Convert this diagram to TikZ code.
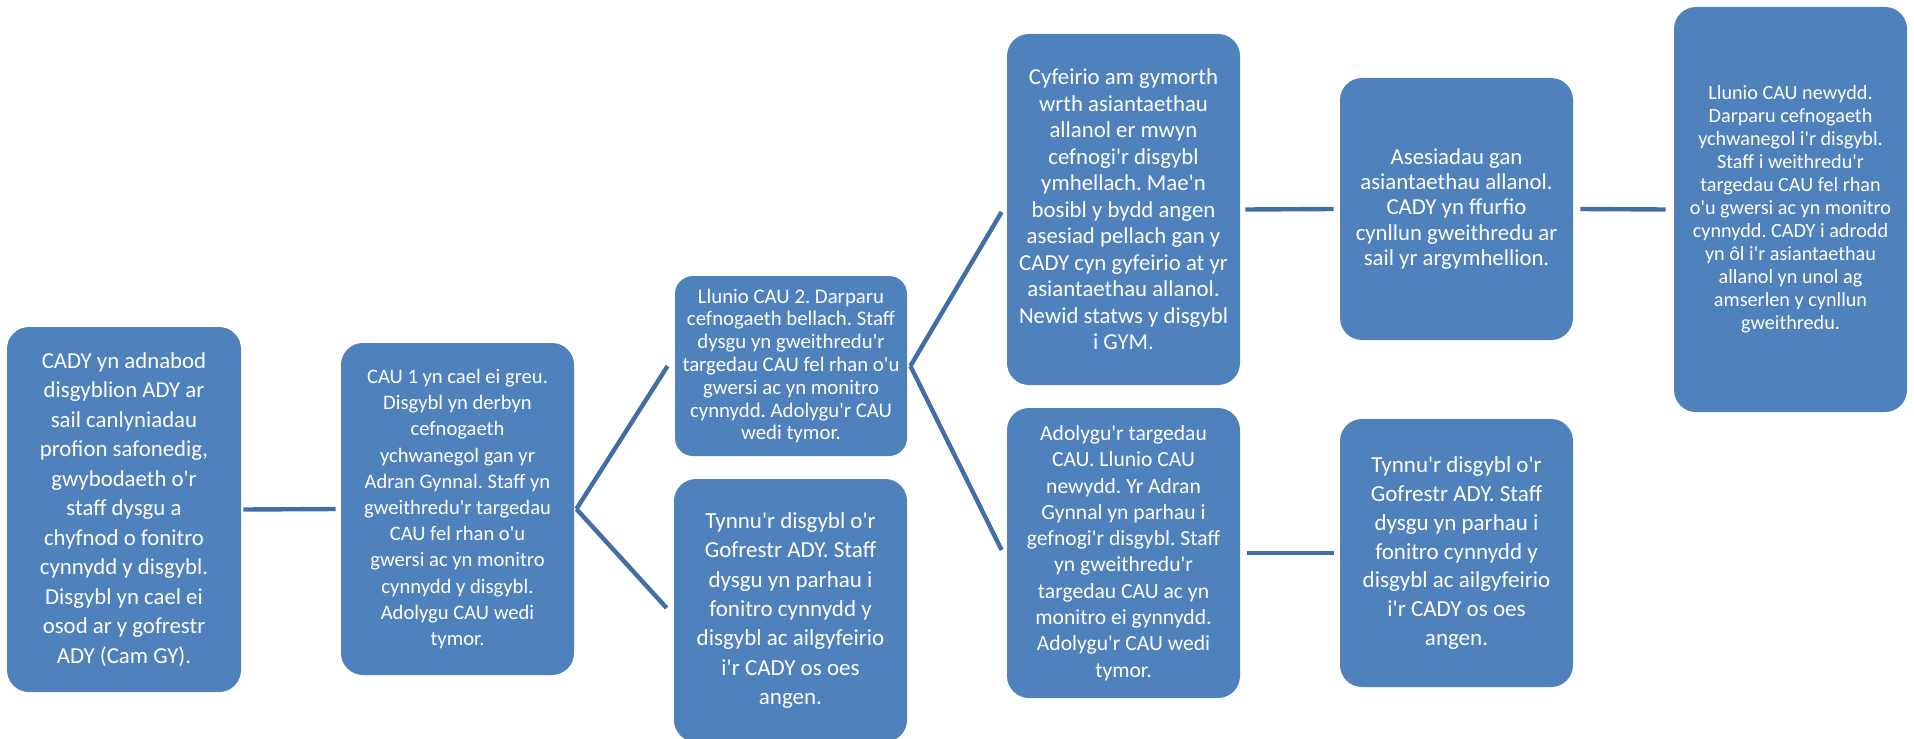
\documentclass[tikz,border=0pt]{standalone}
\usepackage{fontspec}
\setmainfont{Carlito}[Ligatures=TeXOff]
\usetikzlibrary{calc}
\definecolor{boxblue}{RGB}{79,129,189}
\definecolor{lineblue}{RGB}{66,110,166}
\tikzset{
  box/.style={fill=boxblue, draw=none, text=white, align=center, inner sep=0pt, rounded corners=11pt},
  link/.style={draw=lineblue, line width=2.2pt}
}
\frenchspacing
\begin{document}
\begin{tikzpicture}[x=0.5pt,y=-0.5pt]
\useasboundingbox (0,0) rectangle (1914,738);
\node[box, minimum width=117pt, minimum height=182.5pt, font=\fontsize{11.4}{14.75}\selectfont] (A) at (124,509.5)
 {CADY yn adnabod\\disgyblion ADY ar\\sail canlyniadau\\profion safonedig,\\gwybodaeth o'r\\staff dysgu a\\chyfnod o fonitro\\cynnydd y disgybl.\\Disgybl yn cael ei\\osod ar y gofrestr\\ADY (Cam GY).};
\node[box, minimum width=116.5pt, minimum height=166pt, font=\fontsize{10.3}{13.1}\selectfont] (B) at (457.5,509)
 {CAU 1 yn cael ei greu.\\Disgybl yn derbyn\\cefnogaeth\\ychwanegol gan yr\\Adran Gynnal. Staff yn\\gweithredu'r targedau\\CAU fel rhan o'u\\gwersi ac yn monitro\\cynnydd y disgybl.\\Adolygu CAU wedi\\tymor.};
\node[box, rounded corners=9pt, minimum width=116pt, minimum height=90pt, font=\fontsize{10.4}{11.4}\selectfont] (C) at (791,366)
 {Llunio CAU 2. Darparu\\cefnogaeth bellach. Staff\\dysgu yn gweithredu'r\\targedau CAU fel rhan o'u\\gwersi ac yn monitro\\cynnydd. Adolygu'r CAU\\wedi tymor.};
\node[box, minimum width=116.5pt, minimum height=131.5pt, font=\fontsize{11.5}{14.7}\selectfont] (D) at (790.5,610.5)
 {Tynnu'r disgybl o'r\\Gofrestr ADY. Staff\\dysgu yn parhau i\\fonitro cynnydd y\\disgybl ac ailgyfeirio\\i'r CADY os oes\\angen.};
\node[box, minimum width=116.5pt, minimum height=175.5pt, font=\fontsize{11.4}{13.25}\selectfont] (E) at (1123.5,209.5)
 {Cyfeirio am gymorth\\wrth asiantaethau\\allanol er mwyn\\cefnogi'r disgybl\\ymhellach. Mae'n\\bosibl y bydd angen\\asesiad pellach gan y\\CADY cyn gyfeirio at yr\\asiantaethau allanol.\\Newid statws y disgybl\\i GYM.};
\node[box, minimum width=116.5pt, minimum height=145pt, font=\fontsize{10.8}{13.15}\selectfont] (F) at (1123.5,553)
 {Adolygu'r targedau\\CAU. Llunio CAU\\newydd. Yr Adran\\Gynnal yn parhau i\\gefnogi'r disgybl. Staff\\yn gweithredu'r\\targedau CAU ac yn\\monitro ei gynnydd.\\Adolygu'r CAU wedi\\tymor.};
\node[box, minimum width=116.5pt, minimum height=131pt, font=\fontsize{11.4}{12.7}\selectfont] (G) at (1456.5,209)
 {Asesiadau gan\\asiantaethau allanol.\\CADY yn ffurfio\\cynllun gweithredu ar\\sail yr argymhellion.};
\node[box, minimum width=116.5pt, minimum height=134pt, font=\fontsize{11.5}{14.45}\selectfont] (H) at (1456.5,553)
 {Tynnu'r disgybl o'r\\Gofrestr ADY. Staff\\dysgu yn parhau i\\fonitro cynnydd y\\disgybl ac ailgyfeirio\\i'r CADY os oes\\angen.};
\node[box, minimum width=116.5pt, minimum height=202.5pt, font=\fontsize{10.1}{11.5}\selectfont] (I) at (1790.5,209.5)
 {Llunio CAU newydd.\\Darparu cefnogaeth\\ychwanegol i'r disgybl.\\Staff i weithredu'r\\targedau CAU fel rhan\\o'u gwersi ac yn monitro\\cynnydd. CADY i adrodd\\yn ôl i'r asiantaethau\\allanol yn unol ag\\amserlen y cynllun\\gweithredu.};
\draw[link] ($(A.east)+(2,0)$) -- ($(B.west)+(-5,0)$);
\draw[link] ($(B.east)+(2,0)$) -- ($(C.west)+(-7,0)$);
\draw[link] ($(B.east)+(2,0)$) -- ($(D.west)+(-7,-2.5)$);
\draw[link] ($(C.east)+(3,0)$) -- ($(E.west)+(-5,2.5)$);
\draw[link] ($(C.east)+(3,0)$) -- ($(F.west)+(-5,-3)$);
\draw[link] ($(E.east)+(5,0)$) -- ($(G.west)+(-6,0)$);
\draw[link] ($(F.east)+(7,0)$) -- ($(H.west)+(-6,0)$);
\draw[link] ($(G.east)+(7,0)$) -- ($(I.west)+(-8,0)$);
\end{tikzpicture}
\end{document}
